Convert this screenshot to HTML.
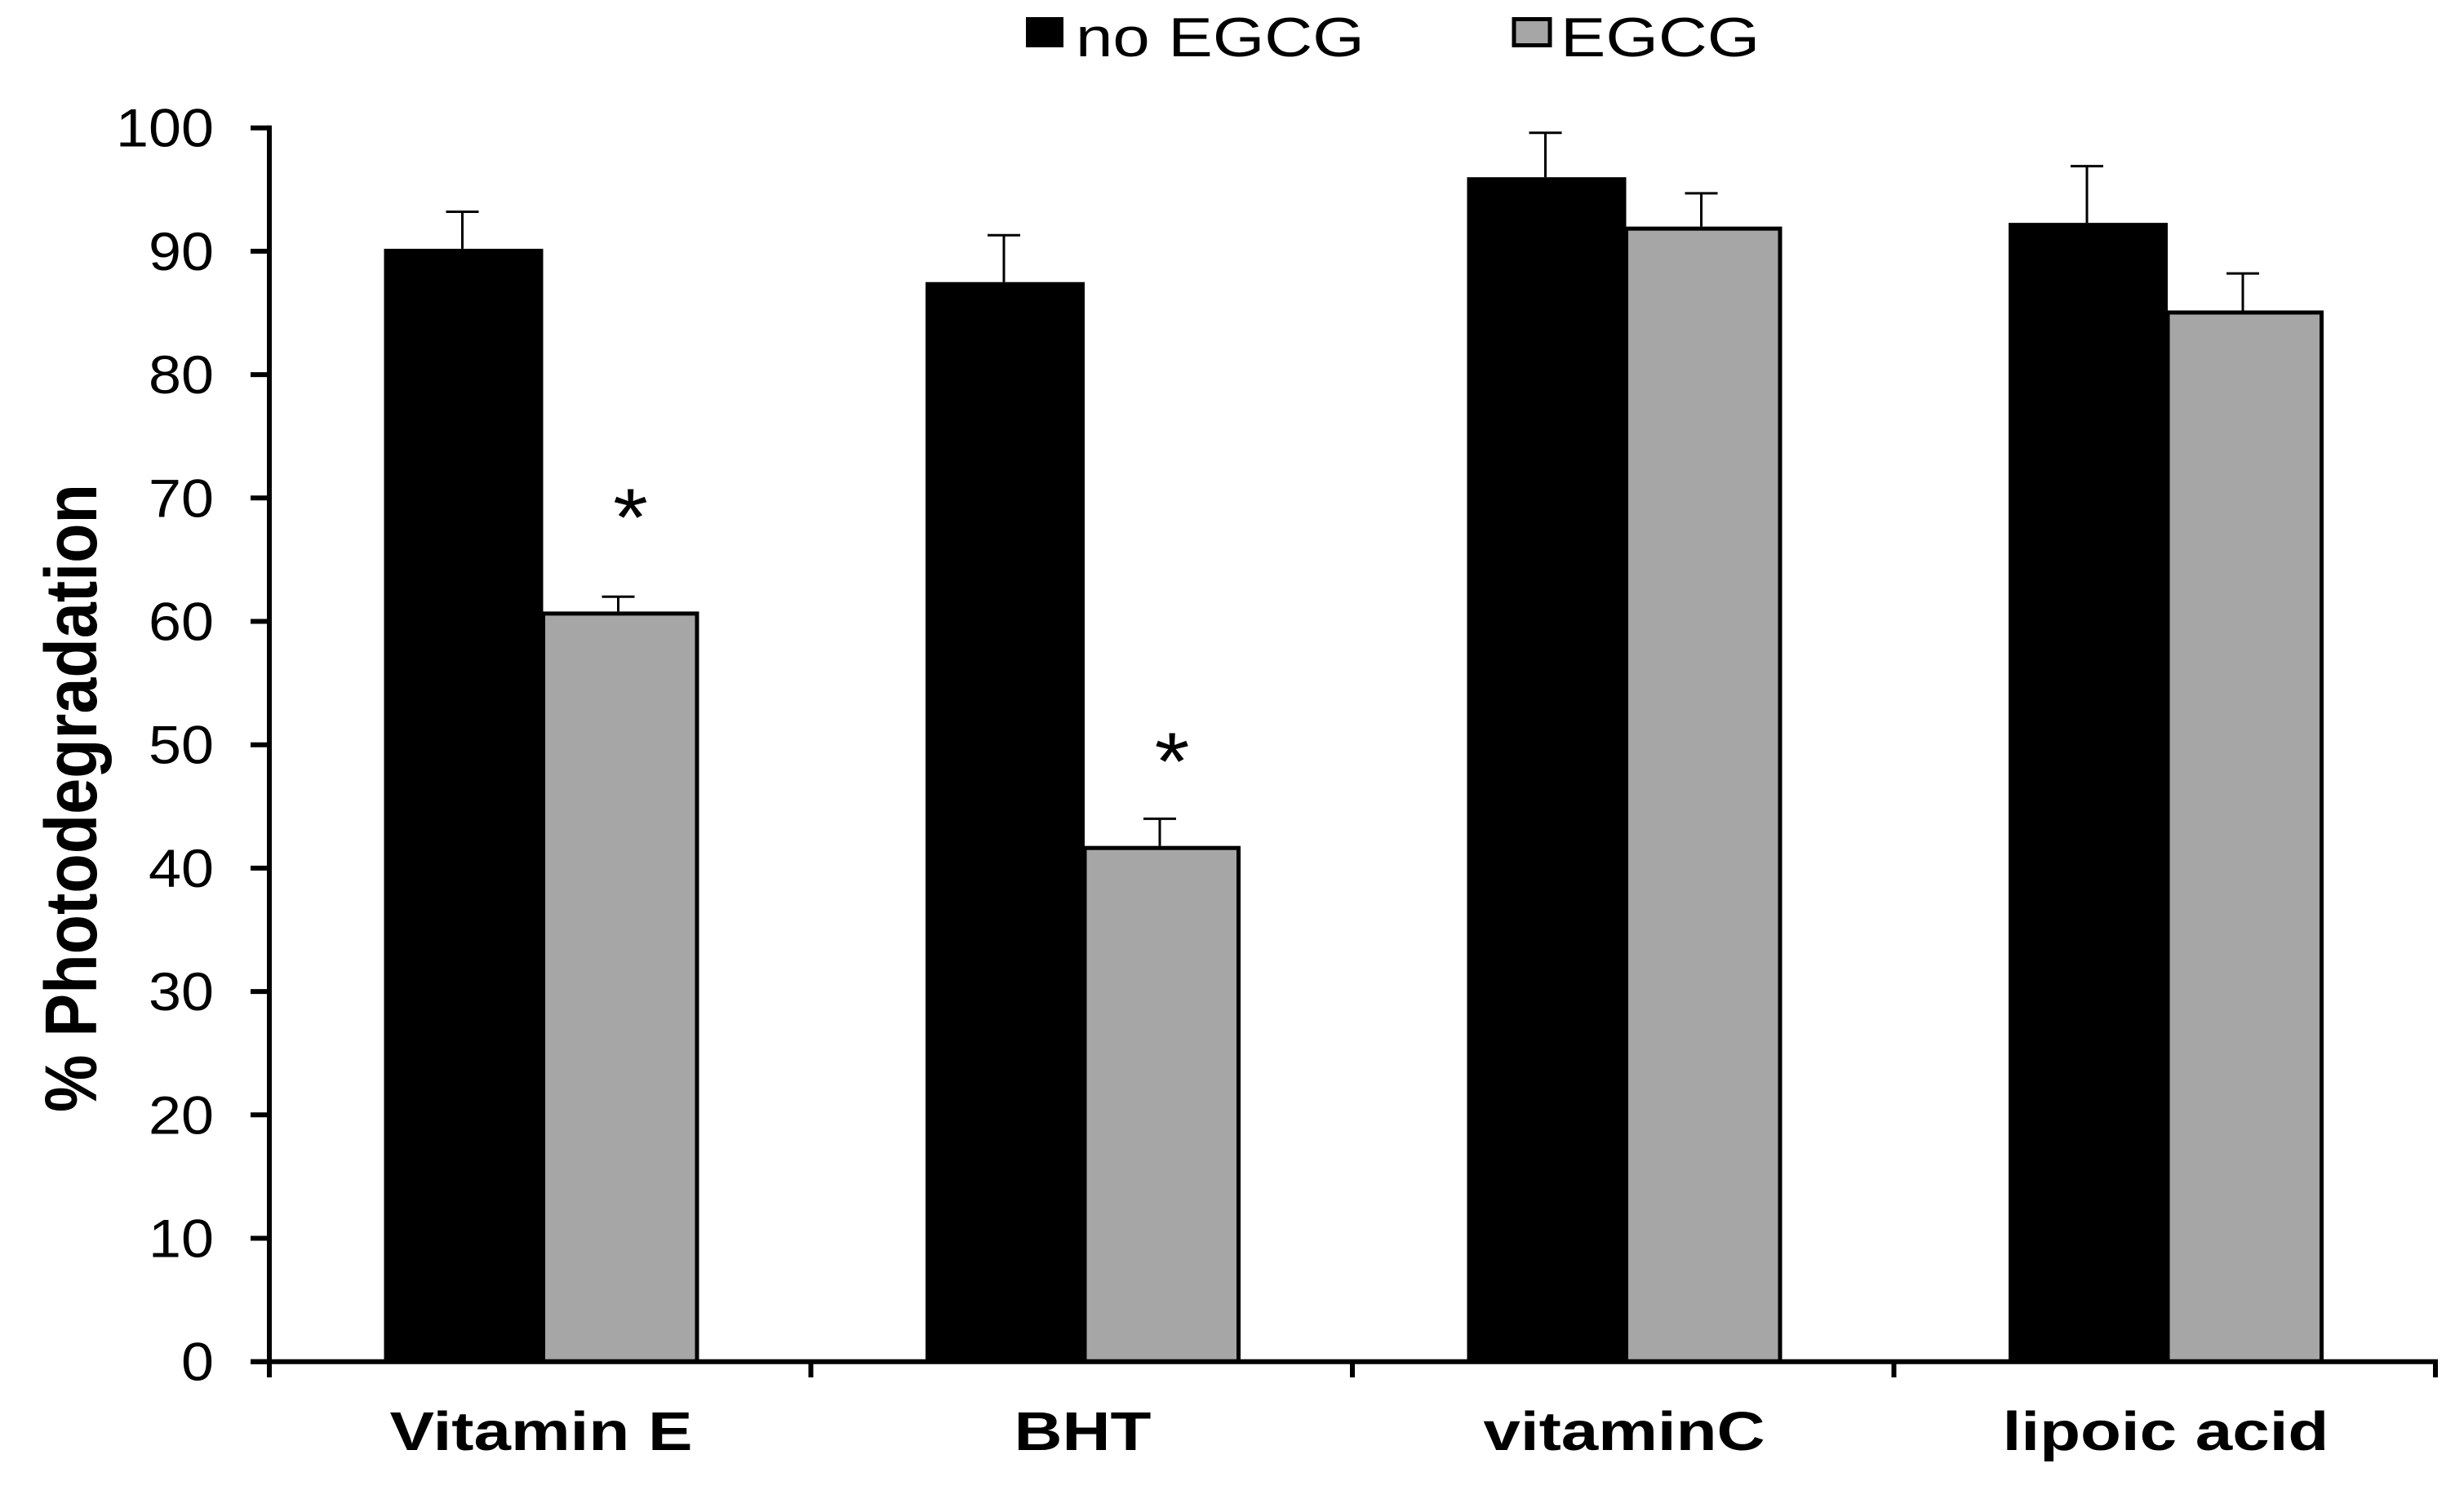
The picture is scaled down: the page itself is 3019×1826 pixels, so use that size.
<!DOCTYPE html>
<html>
<head>
<meta charset="utf-8">
<title>% Photodegradation chart</title>
<style>
html,body{margin:0;padding:0;background:#fff;}
svg{display:block;font-family:"Liberation Sans",Arial,sans-serif;}
</style>
</head>
<body>
<svg id="chart" xmlns="http://www.w3.org/2000/svg" width="3019" height="1826" viewBox="0 0 3019 1826">
<rect x="0" y="0" width="3019" height="1826" fill="#ffffff"/>
<g>
<g>
<rect x="1257" y="21" width="46" height="37" fill="#000"/>
<text transform="translate(1318,69) scale(1.2,1)" font-size="68" fill="#000">no EGCG</text>
</g>
<g>
<rect x="1855" y="23.5" width="44" height="32" fill="#a6a6a6" stroke="#000" stroke-width="5"/>
<text transform="translate(1912,69) scale(1.22,1)" font-size="68" fill="#000">EGCG</text>
</g>
</g>
<text transform="translate(118,1363) rotate(-90) scale(0.88,1)" font-size="90" font-weight="bold" fill="#000">% Photodegradation</text>
<g id="marks"></g>
</svg>
<script>
const categories = ["Vitamin E", "BHT", "vitaminC", "lipoic acid"];
const noEgcgValues = [90.2, 87.5, 96.0, 92.3];
const egcgValues = [60.8, 41.8, 92.0, 85.2];
const noEgcgErrorTops = [93.2, 91.3, 99.6, 96.9];
const egcgErrorTops = [62.0, 44.0, 94.7, 88.2];
const starLevels = [69.4, 49.6, null, null];
const yTickLabels = [0, 10, 20, 30, 40, 50, 60, 70, 80, 90, 100];

const NS = "http://www.w3.org/2000/svg";
const root = document.getElementById("marks");
function yAxis(v) { return 1668.7 - 15.12 * v; }
function xBand(i) { return 330 + 663.5 * i; }

function make(tag, props) {
  const el = document.createElementNS(NS, tag);
  for (const k in props) el.setAttribute(k, props[k]);
  root.appendChild(el);
  return el;
}
function slug(s) { return s.toLowerCase().replace(/\s+/g, "-"); }

categories.forEach(function (cat, i) {
  const blackX = xBand(i) + 140.5;
  const grayX = blackX + 195;

  const e1x = blackX + 96;
  const e1 = make("path", {
    d: "M" + e1x + " " + yAxis(noEgcgValues[i]) + "V" + yAxis(noEgcgErrorTops[i]) + "M" + (e1x - 20) + " " + yAxis(noEgcgErrorTops[i]) + "H" + (e1x + 20),
    stroke: "#000", "stroke-width": 3, fill: "none"
  });
  
  

  const e2x = grayX + 92;
  const e2 = make("path", {
    d: "M" + e2x + " " + yAxis(egcgValues[i]) + "V" + yAxis(egcgErrorTops[i]) + "M" + (e2x - 20) + " " + yAxis(egcgErrorTops[i]) + "H" + (e2x + 20),
    stroke: "#000", "stroke-width": 3, fill: "none"
  });
  
  

  const b1 = make("rect", {
    x: blackX, y: yAxis(noEgcgValues[i]), width: 195,
    height: yAxis(0) - yAxis(noEgcgValues[i]), fill: "#000"
  });
  
  

  const b2 = make("rect", {
    x: grayX, y: yAxis(egcgValues[i]) + 2.5, width: 188.5,
    height: yAxis(0) - yAxis(egcgValues[i]) - 2.5, fill: "#a6a6a6",
    stroke: "#000", "stroke-width": 5
  });
  
  

  if (starLevels[i] !== null) {
    const s = make("text", {
      "text-anchor": "middle", "font-size": 100, fill: "#000",
      transform: "translate(" + (grayX + 107) + "," + (yAxis(starLevels[i]) + 49) + ") scale(1.1,1)"
    });
    s.textContent = "*";
    
    
  }

  const lbl = make("text", {
    "text-anchor": "middle", "font-size": 67, "font-weight": "bold", fill: "#000",
    transform: "translate(" + (xBand(i) + 333) + ",1777) scale(1.22,1)"
  });
  lbl.textContent = cat;
  
  
});

yTickLabels.forEach(function (t) {
  const tick = make("line", {
    x1: 307, x2: 330, y1: yAxis(t), y2: yAxis(t), stroke: "#000", "stroke-width": 6
  });
  
  

  const lab = make("text", {
    "text-anchor": "end", "font-size": 66, fill: "#000",
    transform: "translate(262," + (yAxis(t) + 23) + ") scale(1.09,1)"
  });
  lab.textContent = t;
  
  
});

const yLine = make("line", { x1: 330, x2: 330, y1: yAxis(100) - 3, y2: yAxis(0) + 3, stroke: "#000", "stroke-width": 6 });



const xLine = make("line", { x1: 307, x2: xBand(categories.length) + 3, y1: yAxis(0), y2: yAxis(0), stroke: "#000", "stroke-width": 6 });



for (let i = 0; i <= categories.length; i++) {
  const xt = make("line", { x1: xBand(i), x2: xBand(i), y1: yAxis(0), y2: 1688, stroke: "#000", "stroke-width": 6 });
  
  
}
</script>
</body>
</html>
